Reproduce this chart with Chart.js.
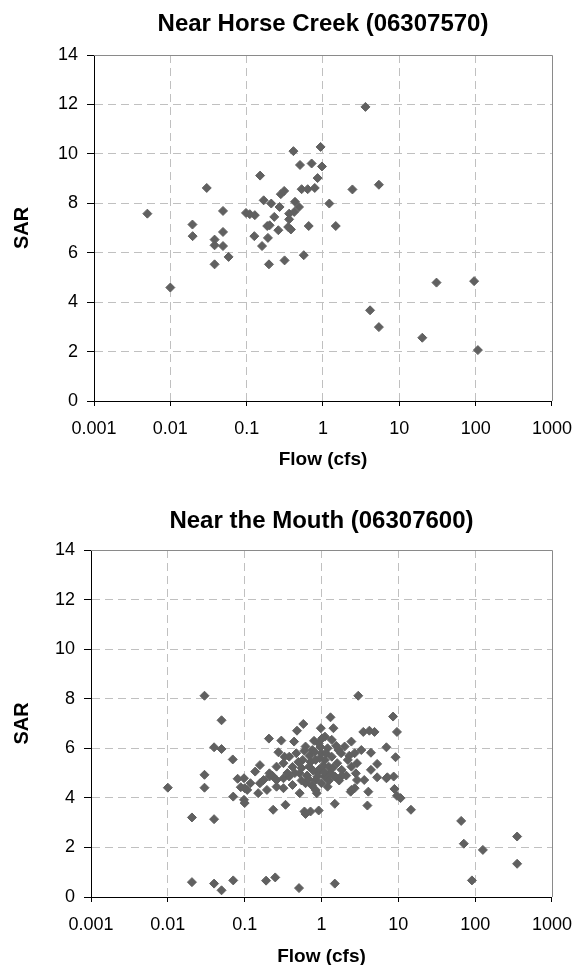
<!DOCTYPE html>
<html>
<head>
<meta charset="utf-8">
<title>SAR vs Flow</title>
<script src="https://cdn.jsdelivr.net/npm/chart.js"></script>
<style>
  html, body { margin: 0; padding: 0; background: #fff; overflow: hidden; }
  #horse_creek_wrap { position: absolute; left: 0; top: 0; width: 584px; height: 485px; }
  #mouth_wrap { position: absolute; left: 0; top: 485px; width: 584px; height: 490px; }
</style>
</head>
<body>
<div id="horse_creek_wrap"><canvas id="horse_creek_chart" width="584" height="485"></canvas></div>
<div id="mouth_wrap"><canvas id="mouth_chart" width="584" height="490"></canvas></div>

<script>
// tick values
const flow_ticks = [0.001, 0.01, 0.1, 1, 10, 100, 1000]
const sar_ticks = [0, 2, 4, 6, 8, 10, 12, 14]

// Near Horse Creek (06307570)
const horse_creek_flow = [
  0.005, 0.01, 0.0195, 0.0196, 0.03, 0.038, 0.038, 0.038, 0.049, 0.049,
  0.049, 0.058, 0.098, 0.11, 0.128, 0.126, 0.15, 0.159, 0.167, 0.186,
  0.2, 0.19, 0.196, 0.21, 0.23, 0.26, 0.27, 0.28, 0.31, 0.314,
  0.35, 0.36, 0.36, 0.38, 0.41, 0.42, 0.43, 0.485, 0.5, 0.525,
  0.56, 0.63, 0.65, 0.71, 0.78, 0.85, 0.93, 0.97, 1.21, 1.47,
  2.43, 3.6, 4.14, 5.4, 5.4, 20, 30.7, 95.5, 107
]
const horse_creek_sar = [
  7.58, 4.59, 7.14, 6.67, 8.62, 6.53, 6.3, 5.53, 7.69, 6.84,
  6.27, 5.83, 7.61, 7.56, 7.52, 6.67, 9.12, 6.27, 8.12, 7.08,
  7.11, 6.6, 5.53, 7.99, 7.45, 6.91, 7.85, 8.37, 8.5, 5.69,
  7.04, 7.58, 7.35, 6.94, 10.11, 7.65, 8.06, 7.85, 9.55, 8.57,
  5.9, 8.57, 7.08, 9.61, 8.62, 9.02, 10.28, 9.49, 7.99, 7.08,
  8.56, 11.9, 3.67, 8.75, 2.99, 2.56, 4.79, 4.85, 2.06
]

// Near the Mouth (06307600)
const mouth_flow = [
  0.01, 0.0206, 0.0206, 0.03, 0.03, 0.03, 0.04, 0.04, 0.04, 0.05,
  0.05, 0.05, 0.07, 0.071, 0.071, 0.081, 0.089, 0.098, 0.098, 0.1,
  0.1, 0.108, 0.119, 0.137, 0.15, 0.158, 0.158, 0.176, 0.19, 0.195,
  0.207, 0.21, 0.21, 0.23, 0.235, 0.25, 0.26, 0.26, 0.26, 0.275,
  0.3, 0.32, 0.32, 0.32, 0.33, 0.34, 0.38, 0.38, 0.42, 0.44,
  0.45, 0.47, 0.48, 0.51, 0.52, 0.52, 0.55, 0.57, 0.58, 0.6,
  0.62, 0.62, 0.62, 0.65, 0.69, 0.7, 0.72, 0.75, 0.76, 0.8,
  0.84, 0.84, 0.84, 0.87, 0.9, 0.92, 0.92, 0.92, 0.98, 1.0,
  1.0, 1.05, 1.11, 1.11, 1.11, 1.2, 1.2, 1.24, 1.3, 1.31,
  1.36, 1.36, 1.43, 1.49, 1.49, 1.5, 1.6, 1.66, 1.8, 1.83,
  1.84, 2.0, 2.1, 2.2, 2.4, 2.45, 2.45, 2.45, 2.7, 2.7,
  2.8, 2.9, 2.9, 3.01, 3.3, 3.5, 3.6, 3.96, 4.07, 4.2,
  4.4, 4.4, 4.9, 5.3, 5.3, 7.0, 7.0, 7.2, 8.55, 8.7,
  8.9, 9.2, 9.6, 9.6, 10.7, 14.6, 65.8, 71.2, 90.8, 126,
  352, 352,
  0.55, 0.6, 0.68, 0.72, 0.78, 0.82, 0.88, 0.95, 0.97, 1.02,
  1.08, 1.15, 1.25, 1.4, 1.55, 0.5, 0.42, 0.36, 1.7, 2.3
]
const mouth_sar = [
  4.41, 3.21, 0.6, 8.12, 4.93, 4.41, 6.04, 3.14, 0.54, 7.13,
  5.97, 0.27, 5.55, 4.05, 0.67, 4.77, 4.43, 4.79, 3.92, 4.39,
  3.79, 4.32, 4.59, 5.06, 4.19, 5.32, 4.59, 4.72, 0.66, 4.32,
  6.39, 4.99, 4.86, 4.89, 3.52, 0.79, 4.72, 5.26, 4.45, 5.84,
  6.31, 4.79, 5.4, 4.39, 5.66, 3.72, 4.86, 5.66, 4.52, 6.27,
  5.0, 5.8, 6.71, 0.36, 4.99, 4.19, 5.2, 5.53, 6.98, 3.45,
  3.35, 4.59, 6.07, 4.9, 5.26, 5.7, 3.45, 4.5, 5.93, 6.3,
  5.53, 4.72, 4.32, 4.19, 5.0, 3.49, 5.13, 6.2, 6.81, 5.8,
  4.59, 5.3, 4.86, 5.53, 6.47, 4.45, 6.0, 5.26, 5.0, 7.25,
  5.66, 6.34, 6.81, 3.76, 0.54, 4.86, 5.4, 5.93, 5.8, 5.13,
  4.89, 6.07, 4.9, 5.53, 4.25, 6.27, 5.26, 4.32, 5.8, 4.39,
  4.99, 5.4, 4.72, 8.12, 5.93, 6.66, 4.72, 3.69, 4.25, 6.71,
  5.82, 5.13, 6.66, 5.37, 4.83, 6.04, 4.79, 4.83, 7.28, 4.86,
  4.36, 5.64, 6.66, 4.08, 3.99, 3.52, 3.07, 2.15, 0.67, 1.9,
  2.44, 1.34,
  4.7, 5.9, 4.75, 5.45, 5.1, 5.85, 4.85, 5.6, 6.05, 6.4,
  5.05, 5.8, 4.7, 5.2, 6.1, 5.45, 5.25, 5.0, 4.7, 5.7
]

const font_family = "'Liberation Sans', Arial, sans-serif"
Chart.defaults.font.family = font_family
Chart.defaults.color = "#000"

function to_points(flows, sars) {
  let points = []
  for (let i = 0; i < flows.length; i++) {
    points.push({ x: flows[i], y: sars[i] })
  }
  return points
}

// solid grey frame on top and right of the plot area
const plot_frame = {
  id: "plot_frame",
  beforeDatasetsDraw(chart) {
    const { ctx, chartArea } = chart
    ctx.save()
    ctx.strokeStyle = "#8a8a8a"
    ctx.lineWidth = 1
    ctx.setLineDash([])
    ctx.beginPath()
    ctx.moveTo(chartArea.left, Math.round(chartArea.top) + 0.5)
    ctx.lineTo(Math.round(chartArea.right) + 0.5, Math.round(chartArea.top) + 0.5)
    ctx.lineTo(Math.round(chartArea.right) + 0.5, chartArea.bottom)
    ctx.stroke()
    ctx.restore()
  }
}

function edge_grid(first, last) {
  return (c) => {
    if (!c.tick) return "#c0c0c0"
    if (c.tick.value == first || c.tick.value == last) return "rgba(0,0,0,0)"
    return "#c0c0c0"
  }
}

function scatter_config(title_text, flows, sars, box) {
  return {
    type: "scatter",
    data: {
      datasets: [{
        data: to_points(flows, sars),
        pointStyle: "rectRot",
        pointRadius: 4.5,
        pointHoverRadius: 4.5,
        borderWidth: 1,
        backgroundColor: "#606060",
        borderColor: "#606060"
      }]
    },
    options: {
      responsive: false,
      animation: false,
      devicePixelRatio: 1,
      layout: { padding: { left: 8, right: box.right_pad, top: 0, bottom: 0 } },
      plugins: {
        legend: { display: false },
        tooltip: { enabled: false },
        title: {
          display: true,
          text: title_text,
          fullSize: false,
          color: "#000",
          font: { size: 24, weight: "bold" },
          padding: { top: box.title_top, bottom: box.title_bottom }
        }
      },
      scales: {
        x: {
          type: "logarithmic",
          min: flow_ticks[0],
          max: flow_ticks[flow_ticks.length - 1],
          afterBuildTicks: (scale) => { scale.ticks = flow_ticks.map(v => ({ value: v })) },
          afterFit: (scale) => { scale.height = box.x_height },
          ticks: {
            autoSkip: false, maxRotation: 0, minRotation: 0, padding: 12,
            color: "#000", font: { size: 18 },
            callback: (v) => String(v)
          },
          grid: {
            color: edge_grid(flow_ticks[0], flow_ticks[flow_ticks.length - 1]),
            tickColor: "#000", tickLength: 5, tickBorderDash: []
          },
          border: { display: true, color: "#000", width: 1, dash: [8, 5] },
          title: {
            display: true, text: "Flow (cfs)", color: "#000",
            font: { size: 19, weight: "bold" },
            padding: { top: 0, bottom: box.x_title_pad }
          }
        },
        y: {
          min: sar_ticks[0],
          max: sar_ticks[sar_ticks.length - 1],
          afterBuildTicks: (scale) => { scale.ticks = sar_ticks.map(v => ({ value: v })) },
          afterFit: (scale) => { scale.width = box.y_width },
          ticks: { padding: 9, color: "#000", font: { size: 18 } },
          grid: {
            color: edge_grid(sar_ticks[0], sar_ticks[sar_ticks.length - 1]),
            tickColor: "#000", tickLength: 7, tickBorderDash: []
          },
          border: { display: true, color: "#000", width: 1, dash: [8, 5] },
          title: {
            display: true, text: "SAR", color: "#000",
            font: { size: 20, weight: "bold" },
            padding: { top: 2, bottom: 0 }
          }
        }
      }
    },
    plugins: [plot_frame]
  }
}

new Chart(document.getElementById("horse_creek_chart").getContext("2d"),
  scatter_config("Near Horse Creek (06307570)", horse_creek_flow, horse_creek_sar,
    { right_pad: 23, title_top: 10, title_bottom: 16.2, x_height: 84, x_title_pad: 13.6, y_width: 86 }))

new Chart(document.getElementById("mouth_chart").getContext("2d"),
  scatter_config("Near the Mouth (06307600)", mouth_flow, mouth_sar,
    { right_pad: 22, title_top: 21.6, title_bottom: 14.6, x_height: 78, x_title_pad: 6.9, y_width: 83 }))
</script>
</body>
</html>
